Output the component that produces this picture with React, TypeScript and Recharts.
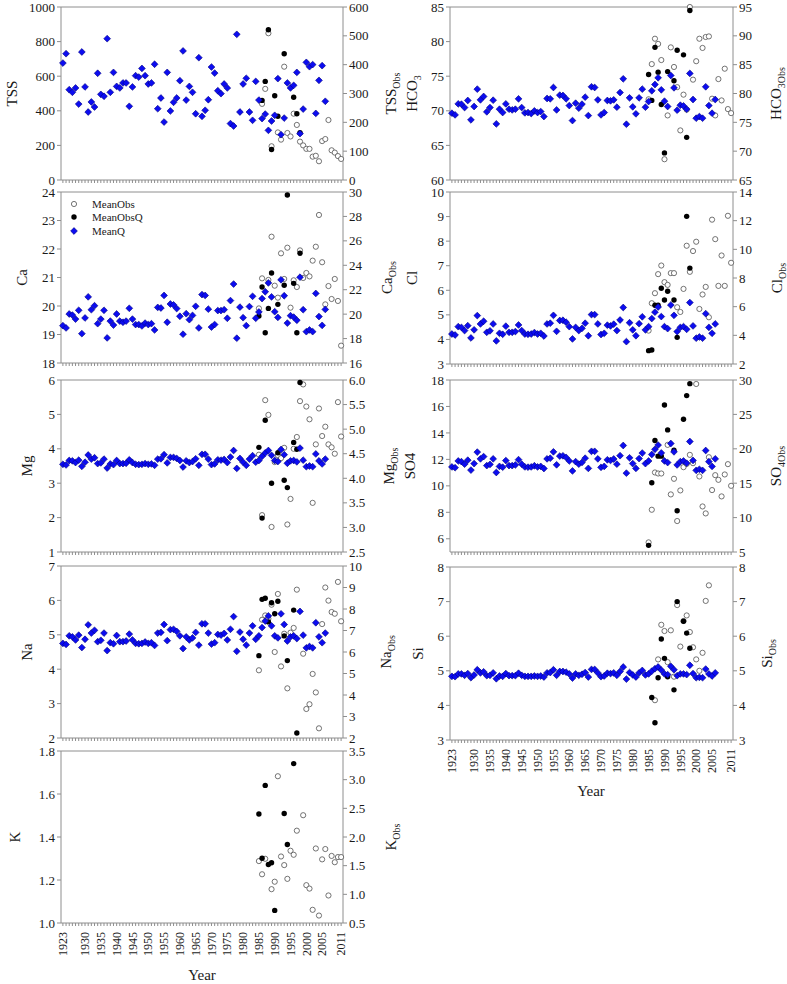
import React from 'react'
import { ScatterChart, Scatter, XAxis, YAxis, ReferenceLine } from 'recharts'

const FONT = '"Times New Roman", "Liberation Serif", serif'
const GREY = '#8e8e8e'
const INK = '#1a1a1a'

// years with a modelled (MeanQ) value
const Q_YEARS = [
  1923, 1924, 1925, 1926, 1927, 1928, 1929, 1930, 1931, 1932,
  1933, 1934, 1935, 1936, 1937, 1938, 1939, 1940, 1941, 1942,
  1943, 1944, 1945, 1946, 1947, 1948, 1949, 1950, 1951, 1952,
  1953, 1954, 1955, 1956, 1957, 1958, 1959, 1960, 1961, 1962,
  1963, 1964, 1965, 1966, 1967, 1968, 1969, 1970, 1971, 1972,
  1973, 1974, 1975, 1976, 1977, 1978, 1979, 1980, 1981, 1982,
  1983, 1984, 1985, 1986, 1987, 1988, 1989, 1990, 1991, 1992,
  1993, 1994, 1995, 1996, 1997, 1998, 1999, 2000, 2001, 2002,
  2003, 2004, 2005, 2006
]
const YEAR_LABELS = [1923, 1930, 1935, 1940, 1945, 1950, 1955, 1960, 1965, 1970, 1975, 1980, 1985, 1990, 1995, 2000, 2005, 2011]
const ALL_YEARS = Array.from({ length: 89 }, (_, i) => 1923 + i)
const X_DOMAIN: [number, number] = [1922.4, 2011.6]

type Pt = [number, number]

// ---- TSS ----
const TSS_Q = [
  676, 730, 522, 507, 532, 439, 740, 538, 393, 451,
  422, 617, 495, 484, 817, 507, 622, 541, 532, 561,
  561, 426, 538, 603, 595, 645, 603, 555, 561, 669,
  412, 474, 335, 622, 399, 449, 474, 574, 746, 462,
  541, 507, 383, 707, 368, 403, 464, 653, 618, 516,
  499, 555, 532, 326, 312, 842, 393, 555, 588, 393,
  345, 570, 462, 355, 381, 287, 341, 374, 586, 262,
  358, 561, 532, 547, 622, 268, 410, 680, 655, 667,
  385, 576, 661, 455
]
const TSS_OBS: Pt[] = [
  [1986, 264], [1987, 316], [1988, 509], [1989, 117], [1991, 165], [1992, 140], [1993, 393],
  [1994, 163], [1995, 151], [1996, 230], [1997, 191], [1998, 133], [1999, 120], [2000, 108],
  [2001, 108], [2002, 81], [2003, 84], [2004, 65], [2005, 135], [2006, 142], [2007, 208],
  [2008, 103], [2009, 95], [2010, 83], [2011, 73]
]
const TSS_OBSQ: Pt[] = [
  [1986, 276], [1987, 342], [1988, 521], [1989, 106], [1990, 292], [1991, 221], [1993, 438],
  [1996, 287], [1997, 230], [1998, 164]
]

// ---- HCO3 ----
const HCO3_Q = [
  69.65, 69.41, 71.0, 70.96, 70.47, 71.49, 68.69, 70.62, 73.13, 71.58,
  72.07, 69.85, 70.47, 71.53, 68.11, 70.23, 69.75, 71.0, 70.23, 70.13,
  70.23, 71.73, 70.47, 69.7, 69.75, 69.6, 69.99, 69.75, 69.89, 69.17,
  71.78, 71.73, 73.37, 70.13, 72.26, 72.21, 71.73, 70.76, 68.59, 71.1,
  70.38, 70.96, 71.97, 69.31, 73.47, 73.37, 71.58, 69.41, 69.75, 71.49,
  71.44, 71.58, 70.52, 72.64, 74.62, 68.06, 71.87, 70.57, 69.56, 71.87,
  73.13, 70.52, 71.34, 72.89, 73.8, 74.77, 73.03, 71.39, 70.62, 75.1,
  73.32, 70.09, 70.81, 70.71, 70.23, 75.4, 71.63, 68.93, 69.17, 68.93,
  73.47, 70.76, 69.65, 71.63
]
const HCO3_OBS: Pt[] = [
  [1985, 79.0], [1986, 85.1], [1987, 89.5], [1988, 88.6], [1989, 85.8], [1990, 68.6], [1991, 76.2],
  [1992, 88.0], [1993, 84.6], [1994, 81.1], [1995, 73.6], [1996, 79.8], [1997, 77.2], [1998, 95.0],
  [1999, 82.4], [2000, 85.6], [2001, 89.5], [2002, 87.9], [2003, 89.8], [2004, 89.9], [2005, 79.1],
  [2006, 76.2], [2007, 82.5], [2008, 78.8], [2009, 84.3], [2010, 77.3], [2011, 76.6]
]
const HCO3_OBSQ: Pt[] = [
  [1985, 83.3], [1986, 78.8], [1987, 88.0], [1988, 83.7], [1989, 78.1], [1990, 69.7], [1991, 83.8],
  [1993, 82.2], [1994, 87.5], [1996, 86.7], [1997, 72.4], [1998, 94.4]
]

// ---- Ca ----
const CA_Q = [
  19.31, 19.23, 19.72, 19.68, 19.54, 19.85, 19.03, 19.58, 20.32, 19.87,
  20.01, 19.38, 19.54, 19.85, 18.88, 19.47, 19.33, 19.72, 19.47, 19.43,
  19.47, 19.92, 19.54, 19.35, 19.35, 19.3, 19.4, 19.35, 19.38, 19.16,
  19.95, 19.93, 20.37, 19.43, 20.07, 20.04, 19.91, 19.64, 19.01, 19.73,
  19.52, 19.67, 19.99, 19.23, 20.4, 20.37, 19.89, 19.26, 19.35, 19.84,
  19.84, 19.87, 19.57, 20.19, 20.77, 18.87, 19.96, 19.59, 19.31, 19.98,
  20.34, 19.57, 19.79, 20.26, 20.5, 20.81, 20.32, 19.8, 19.6, 20.92,
  20.36, 19.4, 19.66, 19.61, 19.5, 21.01, 19.87, 19.1, 19.16, 19.1,
  20.44, 19.63, 19.32, 19.88
]
const CA_OBS: Pt[] = [
  [1985, 20.47], [1986, 22.93], [1988, 22.8], [1989, 26.34], [1990, 22.33], [1991, 21.35],
  [1992, 24.98], [1993, 22.88], [1994, 25.44], [1995, 20.53], [1996, 22.77], [1997, 22.22],
  [1998, 25.22], [1999, 22.96], [2000, 23.37], [2001, 23.09], [2002, 24.38], [2003, 25.52],
  [2004, 28.12], [2005, 24.25], [2006, 20.8], [2007, 22.3], [2008, 21.24], [2009, 22.88],
  [2010, 21.08], [2011, 17.42]
]
const CA_OBSQ: Pt[] = [
  [1985, 19.85], [1986, 22.22], [1987, 18.48], [1988, 20.47], [1989, 23.37], [1991, 20.8],
  [1993, 22.36], [1994, 29.76], [1996, 22.52], [1997, 18.48], [1998, 24.98]
]

// ---- Cl ----
const CL_Q = [
  4.22, 4.18, 4.52, 4.49, 4.36, 4.56, 4.06, 4.39, 4.97, 4.63,
  4.74, 4.29, 4.35, 4.63, 3.94, 4.25, 4.21, 4.54, 4.29, 4.29,
  4.32, 4.59, 4.36, 4.22, 4.21, 4.22, 4.28, 4.22, 4.25, 4.14,
  4.63, 4.66, 4.98, 4.33, 4.77, 4.78, 4.7, 4.52, 4.02, 4.49,
  4.36, 4.45, 4.66, 4.15, 5.01, 5.01, 4.63, 4.2, 4.25, 4.58,
  4.55, 4.62, 4.36, 4.79, 5.3, 3.91, 4.68, 4.39, 4.15, 4.64,
  4.92, 4.39, 4.52, 4.85, 5.11, 5.32, 4.93, 4.52, 4.44, 5.4,
  4.98, 4.32, 4.49, 4.52, 4.41, 5.5, 4.55, 4.05, 4.1, 4.05,
  5.05, 4.49, 4.25, 4.63
]
const CL_OBS: Pt[] = [
  [1985, 4.33], [1986, 6.24], [1987, 6.94], [1988, 8.27], [1989, 8.87], [1990, 7.71], [1991, 7.52],
  [1992, 8.34], [1993, 8.34], [1994, 5.96], [1995, 5.63], [1996, 7.24], [1997, 10.25], [1998, 8.43],
  [1999, 9.88], [2000, 10.53], [2001, 5.84], [2002, 6.85], [2003, 7.38], [2004, 5.26], [2005, 12.07],
  [2006, 10.71], [2007, 7.45], [2008, 9.57], [2009, 7.45], [2010, 12.34], [2011, 9.06]
]
const CL_OBSQ: Pt[] = [
  [1985, 2.93], [1986, 2.98], [1987, 6.1], [1988, 6.1], [1989, 7.29], [1990, 6.47], [1991, 7.08],
  [1993, 6.47], [1994, 3.86], [1997, 12.3], [1998, 8.69]
]

// ---- Mg ----
const MG_Q = [
  3.55, 3.53, 3.66, 3.65, 3.6, 3.67, 3.49, 3.61, 3.82, 3.7,
  3.74, 3.57, 3.59, 3.7, 3.44, 3.56, 3.54, 3.66, 3.57, 3.57,
  3.58, 3.68, 3.6, 3.55, 3.54, 3.55, 3.57, 3.55, 3.56, 3.52,
  3.7, 3.71, 3.83, 3.59, 3.75, 3.75, 3.72, 3.66, 3.47, 3.65,
  3.6, 3.63, 3.71, 3.52, 3.84, 3.84, 3.7, 3.54, 3.56, 3.68,
  3.67, 3.69, 3.6, 3.76, 3.95, 3.43, 3.72, 3.61, 3.52, 3.7,
  3.8, 3.61, 3.66, 3.78, 3.88, 3.95, 3.81, 3.66, 3.63, 3.98,
  3.83, 3.58, 3.65, 3.66, 3.62, 4.02, 3.67, 3.48, 3.5, 3.48,
  3.85, 3.65, 3.56, 3.7
]
const MG_OBS: Pt[] = [
  [1985, 4.48], [1986, 3.25], [1987, 5.59], [1988, 5.29], [1989, 3.01], [1990, 4.33], [1991, 4.47],
  [1992, 4.41], [1993, 4.62], [1994, 3.06], [1995, 3.58], [1996, 4.6], [1997, 4.84], [1998, 5.57],
  [1999, 5.91], [2000, 5.46], [2001, 5.2], [2002, 3.5], [2003, 4.69], [2004, 5.42], [2005, 4.86],
  [2006, 5.05], [2007, 4.69], [2008, 4.63], [2009, 4.5], [2010, 5.55], [2011, 4.85]
]
const MG_OBSQ: Pt[] = [
  [1985, 4.63], [1986, 3.19], [1987, 5.18], [1989, 3.9], [1991, 4.52], [1993, 3.96],
  [1994, 3.81], [1996, 4.73], [1997, 4.59], [1998, 5.95]
]

// ---- SO4 ----
const SO4_Q = [
  11.43, 11.37, 11.88, 11.83, 11.64, 11.94, 11.19, 11.68, 12.55, 12.04,
  12.21, 11.53, 11.62, 12.04, 11.01, 11.47, 11.41, 11.91, 11.53, 11.53,
  11.58, 11.98, 11.64, 11.43, 11.41, 11.43, 11.52, 11.43, 11.47, 11.31,
  12.04, 12.09, 12.57, 11.59, 12.25, 12.27, 12.15, 11.88, 11.13, 11.83,
  11.64, 11.77, 12.09, 11.32, 12.61, 12.61, 12.04, 11.4, 11.47, 11.97,
  11.92, 12.03, 11.64, 12.28, 13.05, 10.96, 12.12, 11.68, 11.32, 12.06,
  12.48, 11.68, 11.88, 12.37, 12.76, 13.08, 12.49, 11.88, 11.76, 13.2,
  12.57, 11.58, 11.83, 11.88, 11.71, 13.35, 11.92, 11.17, 11.25, 11.17,
  12.67, 11.83, 11.47, 12.04
]
const SO4_OBS: Pt[] = [
  [1985, 6.4], [1986, 11.14], [1987, 16.56], [1988, 16.41], [1989, 16.41], [1991, 20.57],
  [1992, 13.37], [1993, 15.64], [1994, 9.5], [1995, 13.95], [1996, 17.33], [1997, 17.81],
  [1998, 19.12], [1999, 17.91], [2000, 29.42], [2001, 15.98], [2002, 11.62], [2003, 10.61],
  [2004, 18.78], [2005, 14.0], [2006, 16.17], [2007, 15.49], [2008, 13.08], [2009, 16.27],
  [2010, 17.77], [2011, 14.62]
]
const SO4_OBSQ: Pt[] = [
  [1985, 5.97], [1986, 15.06], [1987, 21.2], [1988, 18.93], [1989, 18.93], [1990, 26.37],
  [1991, 22.75], [1993, 19.8], [1994, 11.0], [1996, 24.29], [1997, 27.73], [1998, 29.47]
]

// ---- Na ----
const NA_Q = [
  4.75, 4.72, 4.97, 4.94, 4.85, 4.99, 4.63, 4.87, 5.29, 5.05,
  5.13, 4.8, 4.84, 5.05, 4.54, 4.77, 4.74, 4.98, 4.8, 4.8,
  4.82, 5.02, 4.85, 4.75, 4.74, 4.75, 4.79, 4.75, 4.77, 4.69,
  5.05, 5.07, 5.3, 4.83, 5.15, 5.16, 5.1, 4.97, 4.6, 4.94,
  4.85, 4.91, 5.07, 4.7, 5.32, 5.32, 5.05, 4.73, 4.77, 5.01,
  4.99, 5.04, 4.85, 5.16, 5.53, 4.52, 5.08, 4.87, 4.7, 5.05,
  5.26, 4.87, 4.97, 5.21, 5.4, 5.55, 5.26, 4.97, 4.91, 5.61,
  5.3, 4.82, 4.94, 4.97, 4.89, 5.68, 4.99, 4.62, 4.66, 4.62,
  5.35, 4.94, 4.77, 5.05
]
const NA_OBS: Pt[] = [
  [1985, 5.15], [1986, 7.5], [1987, 7.7], [1988, 7.55], [1989, 8.2], [1990, 6.0], [1991, 8.7],
  [1992, 5.33], [1993, 6.85], [1994, 4.31], [1995, 6.9], [1996, 7.12], [1997, 8.9], [1999, 5.92],
  [2000, 3.35], [2001, 3.57], [2002, 4.98], [2003, 4.12], [2004, 2.45], [2005, 7.3], [2006, 9.0],
  [2007, 8.39], [2008, 7.86], [2009, 7.78], [2010, 9.26], [2011, 7.43]
]
const NA_OBSQ: Pt[] = [
  [1985, 5.83], [1986, 8.45], [1987, 8.5], [1988, 7.4], [1989, 8.29], [1990, 7.78], [1991, 8.36],
  [1993, 6.75], [1994, 5.6], [1996, 7.95], [1997, 2.23]
]

// ---- Si ----
const SI_Q = [
  4.84, 4.83, 4.91, 4.91, 4.87, 4.92, 4.8, 4.88, 5.03, 4.94,
  4.97, 4.86, 4.87, 4.94, 4.77, 4.85, 4.84, 4.92, 4.86, 4.86,
  4.86, 4.93, 4.87, 4.84, 4.84, 4.84, 4.85, 4.84, 4.85, 4.82,
  4.94, 4.95, 5.03, 4.87, 4.98, 4.98, 4.96, 4.91, 4.79, 4.91,
  4.87, 4.9, 4.95, 4.82, 5.04, 5.04, 4.94, 4.83, 4.85, 4.93,
  4.92, 4.94, 4.87, 4.98, 5.11, 4.76, 4.95, 4.88, 4.82, 4.94,
  5.01, 4.88, 4.91, 4.99, 5.06, 5.11, 5.02, 4.91, 4.89, 5.13,
  5.03, 4.86, 4.91, 4.91, 4.89, 5.16, 4.92, 4.8, 4.81, 4.8,
  5.05, 4.91, 4.85, 4.94
]
const SI_OBS: Pt[] = [
  [1987, 4.15], [1988, 5.33], [1989, 6.33], [1990, 6.15], [1991, 5.25], [1992, 6.17], [1993, 4.83],
  [1994, 6.9], [1995, 5.7], [1996, 6.44], [1997, 6.6], [1998, 6.12], [1999, 5.68], [2000, 5.33],
  [2001, 5.0], [2002, 5.52], [2003, 7.02], [2004, 7.47]
]
const SI_OBSQ: Pt[] = [
  [1986, 4.23], [1987, 3.5], [1988, 4.8], [1989, 5.92], [1990, 5.36], [1991, 4.83], [1993, 4.45],
  [1994, 7.0], [1996, 6.43], [1997, 6.09], [1998, 5.65]
]

// ---- K (observations only) ----
const K_OBS: Pt[] = [
  [1985, 1.58], [1986, 1.35], [1987, 1.62], [1989, 1.09], [1990, 1.22], [1991, 3.06], [1992, 1.66],
  [1993, 1.51], [1994, 1.27], [1995, 1.76], [1996, 1.69], [1997, 2.11], [1999, 2.38], [2000, 1.16],
  [2001, 1.1], [2002, 0.73], [2003, 1.8], [2004, 0.63], [2005, 1.61], [2006, 1.79], [2007, 0.98],
  [2008, 1.67], [2009, 1.56], [2010, 1.65], [2011, 1.65]
]
const K_OBSQ: Pt[] = [
  [1985, 2.4], [1986, 1.63], [1987, 2.9], [1988, 1.52], [1989, 1.55], [1990, 0.72], [1993, 2.41],
  [1994, 1.87], [1996, 3.28]
]

interface Panel {
  key: string
  col: 0 | 1
  top: number
  height: number
  leftDomain: [number, number]
  leftTicks: number[]
  rightDomain: [number, number]
  rightTicks: number[]
  leftDigits?: number
  rightDigits?: number
  q?: number[]
  obs: Pt[]
  obsQ: Pt[]
  yearLabels?: boolean
  name: string
  sub?: string
  obsName: string
  obsSub: string
  titleX: number
  obsTitleX: number
}

const PANELS: Panel[] = [
  { key: 'tss', col: 0, top: 7, height: 173, leftDomain: [0, 1000], leftTicks: [0, 200, 400, 600, 800, 1000],
    rightDomain: [0, 600], rightTicks: [0, 100, 200, 300, 400, 500, 600], q: TSS_Q, obs: TSS_OBS, obsQ: TSS_OBSQ,
    name: 'TSS', obsName: 'TSS', obsSub: 'Obs', titleX: 12, obsTitleX: 391 },
  { key: 'ca', col: 0, top: 192, height: 171, leftDomain: [18, 24], leftTicks: [18, 19, 20, 21, 22, 23, 24],
    rightDomain: [16, 30], rightTicks: [16, 18, 20, 22, 24, 26, 28, 30], q: CA_Q, obs: CA_OBS, obsQ: CA_OBSQ,
    name: 'Ca', obsName: 'Ca', obsSub: 'Obs', titleX: 22, obsTitleX: 387 },
  { key: 'mg', col: 0, top: 380, height: 172, leftDomain: [1, 6], leftTicks: [1, 2, 3, 4, 5, 6],
    rightDomain: [2.5, 6], rightTicks: [2.5, 3, 3.5, 4, 4.5, 5, 5.5, 6], rightDigits: 1, q: MG_Q, obs: MG_OBS, obsQ: MG_OBSQ,
    name: 'Mg', obsName: 'Mg', obsSub: 'Obs', titleX: 27, obsTitleX: 389 },
  { key: 'na', col: 0, top: 566, height: 172, leftDomain: [2, 7], leftTicks: [2, 3, 4, 5, 6, 7],
    rightDomain: [2, 10], rightTicks: [2, 3, 4, 5, 6, 7, 8, 9, 10], q: NA_Q, obs: NA_OBS, obsQ: NA_OBSQ,
    name: 'Na', obsName: 'Na', obsSub: 'Obs', titleX: 27, obsTitleX: 386 },
  { key: 'k', col: 0, top: 751, height: 172, leftDomain: [1, 1.8], leftTicks: [1, 1.2, 1.4, 1.6, 1.8], leftDigits: 1,
    rightDomain: [0.5, 3.5], rightTicks: [0.5, 1, 1.5, 2, 2.5, 3, 3.5], rightDigits: 1, obs: K_OBS, obsQ: K_OBSQ,
    yearLabels: true, name: 'K', obsName: 'K', obsSub: 'Obs', titleX: 15, obsTitleX: 391 },
  { key: 'hco3', col: 1, top: 7, height: 173, leftDomain: [60, 85], leftTicks: [60, 65, 70, 75, 80, 85],
    rightDomain: [65, 95], rightTicks: [65, 70, 75, 80, 85, 90, 95], q: HCO3_Q, obs: HCO3_OBS, obsQ: HCO3_OBSQ,
    name: 'HCO', sub: '3', obsName: 'HCO', obsSub: '3Obs', titleX: 412, obsTitleX: 776 },
  { key: 'cl', col: 1, top: 192, height: 172, leftDomain: [3, 10], leftTicks: [3, 4, 5, 6, 7, 8, 9, 10],
    rightDomain: [2, 14], rightTicks: [2, 4, 6, 8, 10, 12, 14], q: CL_Q, obs: CL_OBS, obsQ: CL_OBSQ,
    name: 'Cl', obsName: 'Cl', obsSub: 'Obs', titleX: 412, obsTitleX: 777 },
  { key: 'so4', col: 1, top: 380, height: 172, leftDomain: [5, 18], leftTicks: [6, 8, 10, 12, 14, 16, 18],
    rightDomain: [5, 30], rightTicks: [5, 10, 15, 20, 25, 30], q: SO4_Q, obs: SO4_OBS, obsQ: SO4_OBSQ,
    name: 'SO4', obsName: 'SO', obsSub: '4Obs', titleX: 410, obsTitleX: 776 },
  { key: 'si', col: 1, top: 567, height: 173, leftDomain: [3, 8], leftTicks: [3, 4, 5, 6, 7, 8],
    rightDomain: [3, 8], rightTicks: [3, 4, 5, 6, 7, 8], q: SI_Q, obs: SI_OBS, obsQ: SI_OBSQ,
    yearLabels: true, name: 'Si', obsName: 'Si', obsSub: 'Obs', titleX: 418, obsTitleX: 767 }
]

const COLS = [
  { plotLeft: 61, plotWidth: 282 },
  { plotLeft: 450, plotWidth: 283 }
]
const LEFT_W = 61
const RIGHT_W = 50
const PAD = 8
const PAD_BOTTOM = 8

const OpenDot = (p: any) => (
  <circle cx={p.cx} cy={p.cy} r={2.6} fill="#fff" stroke="#505050" strokeWidth={0.8} />
)
const FilledDot = (p: any) => <circle cx={p.cx} cy={p.cy} r={2.7} fill="#000" />
const Diamond = (p: any) => {
  const s = 3.4
  return (
    <path
      d={`M${p.cx},${p.cy - s}L${p.cx + s},${p.cy}L${p.cx},${p.cy + s}L${p.cx - s},${p.cy}Z`}
      fill="#0c0cf0"
      stroke="#000080"
      strokeWidth={0.6}
    />
  )
}

const EmptyTick = () => <g />
const YearTick = (props: any) => {
  const { x, y, payload } = props
  if (!YEAR_LABELS.includes(payload.value)) return <g />
  const ty = y + 4
  return (
    <text x={x} y={ty} transform={`rotate(-90 ${x} ${ty})`} textAnchor="end" dy="0.35em"
      fontSize={12} fontFamily={FONT} fill={INK}>
      {payload.value}
    </text>
  )
}

function PanelChart({ p }: { p: Panel }) {
  const col = COLS[p.col]
  const xAxisH = p.yearLabels ? 40 : 4
  const width = LEFT_W + col.plotWidth + RIGHT_W
  const height = PAD + p.height + xAxisH + PAD_BOTTOM
  const qData = p.q ? Q_YEARS.map((yr, i) => ({ x: yr, y: p.q![i] })) : []
  const obsData = p.obs.map(([x, y]) => ({ x, y }))
  const obsQData = p.obsQ.map(([x, y]) => ({ x, y }))
  const tickStyle = { fontSize: 13, fontFamily: FONT, fill: INK }
  const fmt = (d?: number) => (v: number) => (d ? v.toFixed(d) : String(v))

  return (
    <div style={{ position: 'absolute', left: col.plotLeft - LEFT_W, top: p.top - PAD }}>
      <ScatterChart width={width} height={height} margin={{ top: PAD, right: 0, bottom: PAD_BOTTOM, left: 0 }}>
        <XAxis type="number" dataKey="x" domain={X_DOMAIN} ticks={ALL_YEARS} interval={0}
          height={xAxisH} tickSize={3} tick={p.yearLabels ? YearTick : EmptyTick}
          axisLine={{ stroke: GREY }} tickLine={{ stroke: GREY }} />
        {/* K has no MeanQ series, so its left axis keeps the fixed domain on its own */}
        <YAxis yAxisId="L" type="number" dataKey="y" domain={p.leftDomain} ticks={p.leftTicks} interval={0}
          allowDataOverflow={!p.q} width={LEFT_W} tickSize={4} tick={tickStyle} tickFormatter={fmt(p.leftDigits)}
          axisLine={{ stroke: GREY }} tickLine={{ stroke: GREY }} />
        <YAxis yAxisId="R" orientation="right" type="number" dataKey="y" domain={p.rightDomain}
          ticks={p.rightTicks} interval={0} width={RIGHT_W} tickSize={4} tick={tickStyle}
          tickFormatter={fmt(p.rightDigits)} axisLine={{ stroke: GREY }} tickLine={{ stroke: GREY }} />
        <ReferenceLine yAxisId="R" y={p.rightDomain[1]} stroke={GREY} />
        <Scatter yAxisId="R" data={obsData} shape={OpenDot} isAnimationActive={false} />
        <Scatter yAxisId="R" data={obsQData} shape={FilledDot} isAnimationActive={false} />
        {p.q && <Scatter yAxisId="L" data={qData} shape={Diamond} isAnimationActive={false} />}
      </ScatterChart>
    </div>
  )
}

function Title({ x, y, text, sub }: { x: number; y: number; text: string; sub?: string }) {
  return (
    <text x={x} y={y} transform={`rotate(-90 ${x} ${y})`} textAnchor="middle" dy="0.35em"
      fontSize={15} fontFamily={FONT} fill={INK}>
      {text}
      {sub && <tspan dy={4} fontSize={10}>{sub}</tspan>}
    </text>
  )
}

function Overlay() {
  const legendRows = [
    { label: 'MeanObs', y: 204, kind: 'open' },
    { label: 'MeanObsQ', y: 217, kind: 'filled' },
    { label: 'MeanQ', y: 231, kind: 'q' }
  ]
  return (
    <svg width={787} height={984} style={{ position: 'absolute', left: 0, top: 0, pointerEvents: 'none' }}>
      {PANELS.map((p) => {
        const cy = p.top + p.height / 2
        return (
          <g key={p.key}>
            <Title x={p.titleX} y={cy} text={p.name} sub={p.sub} />
            <Title x={p.obsTitleX} y={cy} text={p.obsName} sub={p.obsSub} />
          </g>
        )
      })}
      <text x={202} y={980} textAnchor="middle" fontSize={15} fontFamily={FONT} fill={INK}>Year</text>
      <text x={591} y={796} textAnchor="middle" fontSize={15} fontFamily={FONT} fill={INK}>Year</text>
      {legendRows.map((r) => (
        <g key={r.label}>
          {r.kind === 'open' && <OpenDot cx={74} cy={r.y} />}
          {r.kind === 'filled' && <FilledDot cx={74} cy={r.y} />}
          {r.kind === 'q' && <Diamond cx={74} cy={r.y} />}
          <text x={92} y={r.y} dy="0.35em" fontSize={11} fontFamily={FONT} fill={INK}>{r.label}</text>
        </g>
      ))}
    </svg>
  )
}

export default function App() {
  return (
    <div style={{ position: 'absolute', left: 0, top: 0, width: 787, height: 984, background: '#fff' }}>
      {PANELS.map((p) => (
        <PanelChart key={p.key} p={p} />
      ))}
      <Overlay />
    </div>
  )
}
